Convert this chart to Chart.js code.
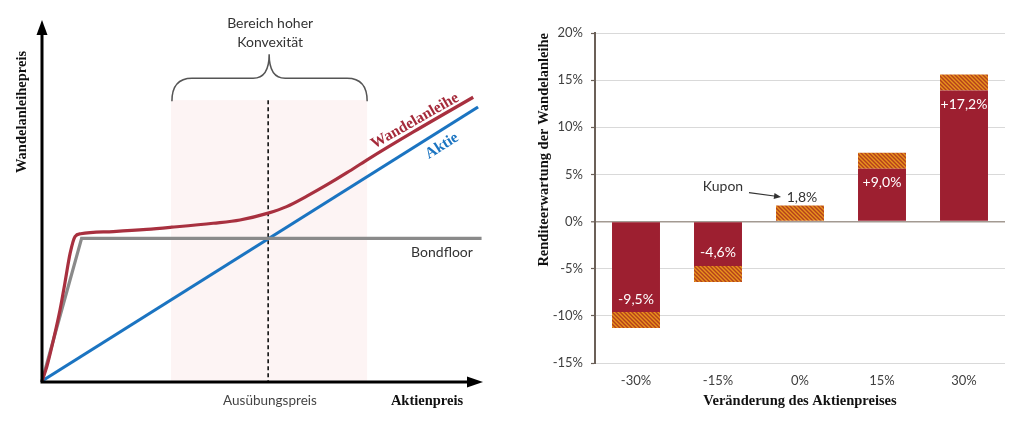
<!DOCTYPE html>
<html><head><meta charset="utf-8">
<script src="https://cdn.jsdelivr.net/npm/chart.js@4.4.1/dist/chart.umd.min.js"></script>
<style>
html,body{margin:0;padding:0;background:#fff;}
#wrap{position:relative;width:1015px;height:424px;overflow:hidden;}
#lbox{position:absolute;left:0;top:0;width:510px;height:424px;}
#rbox{position:absolute;left:510px;top:0;width:505px;height:424px;}
</style></head><body>
<div id="wrap">
<div id="lbox"><canvas id="left" width="510" height="424"></canvas></div>
<div id="rbox"><canvas id="right" width="505" height="424"></canvas></div>
</div>
<script>
// ---------- Left panel data (Stock price vs. convertible price) ----------
const aktieX = [0, 99.1];
const aktieY = [0, 75.9];
const bondX = [0, 9.0, 99.9];
const bondY = [0, 39.5, 39.5];
const wandelX = [0, 1.1, 2.6, 4.1, 5.2, 6.4, 7.5, 8.8, 16.2, 23.8, 29.5, 38.9, 45.0, 51.4, 55.6, 60.2, 64.7, 69.3, 73.8, 84.4, 98];
const wandelY = [0, 4, 11.4, 19.7, 27.1, 35.4, 40, 40.8, 41.4, 42.0, 42.6, 43.7, 44.6, 46.5, 48.3, 51.2, 54.3, 57.7, 61.2, 69.0, 78.6];
const strikeX = 51.4;
const convexRange = [29.3, 73.9];
const convexTop = 77.8;

// ---------- Right panel data ----------
const categories = ['-30%', '-15%', '0%', '15%', '30%'];
const kursValues = [-9.6, -4.7, 0, 5.6, 13.9];
const kuponValues = [-1.7, -1.7, 1.7, 1.7, 1.7];
const barLabels = ['-9,5%', '-4,6%', '1,8%', '+9,0%', '+17,2%'];
const yTicks = [-15, -10, -5, 0, 5, 10, 15, 20];

const toPts = (xs, ys) => xs.map((x, i) => ({x: x, y: ys[i]}));

const SANS = 'Lato, "Open Sans", sans-serif';
const SERIF = '"Liberation Serif", serif';

const leftPlugin = {
  id: 'leftDecor',
  beforeDatasetsDraw(chart) {
    const {ctx, scales: {x, y}} = chart;
    const x1 = x.getPixelForValue(convexRange[0]), x2 = x.getPixelForValue(convexRange[1]);
    const yt = y.getPixelForValue(convexTop), yb = y.getPixelForValue(0);
    ctx.save();
    ctx.fillStyle = '#fdf4f4';
    ctx.fillRect(x1, yt, x2 - x1, yb - yt);
    const sx = x.getPixelForValue(strikeX);
    ctx.strokeStyle = '#111';
    ctx.lineWidth = 1.6;
    ctx.setLineDash([4, 3]);
    ctx.beginPath(); ctx.moveTo(sx, yt); ctx.lineTo(sx, yb); ctx.stroke();
    ctx.restore();
  },
  afterDatasetsDraw(chart) {
    const {ctx, chartArea: a, scales: {x, y}} = chart;
    ctx.save();
    // axes with arrows
    ctx.strokeStyle = '#000'; ctx.fillStyle = '#000'; ctx.lineWidth = 3;
    const ox = a.left, oy = a.bottom + 1;
    ctx.beginPath(); ctx.moveTo(ox, oy); ctx.lineTo(ox, a.top + 14); ctx.stroke();
    ctx.beginPath(); ctx.moveTo(ox, a.top); ctx.lineTo(ox - 5.5, a.top + 15); ctx.lineTo(ox + 5.5, a.top + 15); ctx.closePath(); ctx.fill();
    ctx.beginPath(); ctx.moveTo(ox - 1.5, oy); ctx.lineTo(a.right - 15, oy); ctx.stroke();
    ctx.beginPath(); ctx.moveTo(a.right + 1, oy); ctx.lineTo(a.right - 15, oy - 5.5); ctx.lineTo(a.right - 15, oy + 5.5); ctx.closePath(); ctx.fill();

    // brace
    const x1 = x.getPixelForValue(convexRange[0]) + 1, x2 = x.getPixelForValue(convexRange[1]);
    const yt = y.getPixelForValue(convexTop);
    const sx = x.getPixelForValue(strikeX) + 1;
    const hy = yt - 22, tip = yt - 46;
    ctx.strokeStyle = '#555'; ctx.lineWidth = 1.5;
    ctx.beginPath();
    ctx.moveTo(x1, yt + 1);
    ctx.bezierCurveTo(x1, hy + 8, x1 + 6, hy, x1 + 20, hy);
    ctx.lineTo(sx - 16, hy);
    ctx.bezierCurveTo(sx - 5, hy, sx, hy - 8, sx, tip);
    ctx.bezierCurveTo(sx, hy - 8, sx + 5, hy, sx + 16, hy);
    ctx.lineTo(x2 - 20, hy);
    ctx.bezierCurveTo(x2 - 6, hy, x2, hy + 8, x2, yt + 1);
    ctx.stroke();

    // texts
    ctx.textAlign = 'center'; ctx.textBaseline = 'middle';
    ctx.fillStyle = '#333';
    ctx.font = '14px ' + SANS;
    ctx.fillText('Bereich hoher', sx + 1, 23);
    ctx.fillText('Konvexität', sx + 1, 42);
    ctx.fillText('Bondfloor', 442, 252);
    ctx.fillStyle = '#444';
    ctx.font = '13.5px ' + SANS;
    ctx.fillText('Ausübungspreis', 270, 401);
    ctx.fillStyle = '#111';
    ctx.font = 'bold 14.5px ' + SERIF;
    ctx.fillText('Aktienpreis', 427, 401);
    ctx.save(); ctx.translate(22, 112); ctx.rotate(-Math.PI / 2);
    ctx.fillText('Wandelanleihepreis', 0, 0); ctx.restore();

    ctx.font = 'bold 15.5px ' + SERIF;
    ctx.fillStyle = '#a52a3a';
    ctx.save(); ctx.translate(415, 121); ctx.rotate(-29.5 * Math.PI / 180);
    ctx.fillText('Wandelanleihe', 0, 0); ctx.restore();
    ctx.fillStyle = '#1b74c1';
    ctx.save(); ctx.translate(442, 146); ctx.rotate(-32 * Math.PI / 180);
    ctx.fillText('Aktie', 0, 0); ctx.restore();
    ctx.restore();
  }
};

function makeHatch(ctx) {
  const c = document.createElement('canvas');
  c.width = 4; c.height = 4;
  const g = c.getContext('2d');
  g.fillStyle = '#b4401d'; g.fillRect(0, 0, 4, 4);
  g.strokeStyle = '#e8931c'; g.lineWidth = 1.4;
  g.beginPath();
  g.moveTo(-1, -1); g.lineTo(5, 5);
  g.moveTo(-1, 3); g.lineTo(1, 5);
  g.moveTo(3, -1); g.lineTo(5, 1);
  g.stroke();
  return ctx.createPattern(c, 'repeat');
}

const rightPlugin = {
  id: 'barLabels',
  afterDatasetsDraw(chart) {
    const {ctx} = chart;
    const m0 = chart.getDatasetMeta(0), m1 = chart.getDatasetMeta(1);
    ctx.save();
    ctx.textAlign = 'center'; ctx.textBaseline = 'middle';
    ctx.font = '14px ' + SANS;
    categories.forEach((c, i) => {
      const v = kursValues[i];
      if (v === 0) {
        const b = m1.data[i];
        ctx.fillStyle = '#333';
        ctx.fillText(barLabels[i], b.x + 2, b.y - 8);
        // Kupon annotation
        ctx.fillText('Kupon', b.x - 77, b.y - 19);
        ctx.strokeStyle = '#333'; ctx.lineWidth = 1.2;
        const ax1 = b.x - 51, ay1 = b.y - 13, ax2 = b.x - 19, ay2 = b.y - 8.5;
        ctx.beginPath(); ctx.moveTo(ax1, ay1); ctx.lineTo(ax2 - 5, ay2 - 0.8); ctx.stroke();
        const ang = Math.atan2(ay2 - ay1, ax2 - ax1);
        ctx.beginPath();
        ctx.moveTo(ax2, ay2);
        ctx.lineTo(ax2 - 7 * Math.cos(ang) + 3 * Math.sin(ang), ay2 - 7 * Math.sin(ang) - 3 * Math.cos(ang));
        ctx.lineTo(ax2 - 7 * Math.cos(ang) - 3 * Math.sin(ang), ay2 - 7 * Math.sin(ang) + 3 * Math.cos(ang));
        ctx.closePath(); ctx.fillStyle = '#333'; ctx.fill();
      } else {
        const b = m0.data[i];
        ctx.fillStyle = '#fff';
        ctx.fillText(barLabels[i], b.x, v < 0 ? b.y - 13 : b.y + 14);
      }
    });
    ctx.restore();
  }
};

function build() {
  new Chart(document.getElementById('left'), {
    type: 'line',
    data: {
      datasets: [
        {label: 'Wandelanleihe', data: toPts(wandelX, wandelY), borderColor: '#a8303f', borderWidth: 3.2, pointRadius: 0, cubicInterpolationMode: 'monotone', clip: 8},
        {label: 'Bondfloor', data: toPts(bondX, bondY), borderColor: '#8a8a8a', borderWidth: 3.2, pointRadius: 0, tension: 0, clip: 8},
        {label: 'Aktie', data: toPts(aktieX, aktieY), borderColor: '#1b74c1', borderWidth: 3.2, pointRadius: 0, tension: 0, clip: 8}
      ]
    },
    options: {
      responsive: false, animation: false, devicePixelRatio: 1,
      layout: {padding: {left: 42, right: 28, top: 20, bottom: 43}},
      plugins: {legend: {display: false}, tooltip: {enabled: false}},
      scales: {
        x: {type: 'linear', min: 0, max: 100, display: false},
        y: {type: 'linear', min: 0, max: 100, display: false}
      }
    },
    plugins: [leftPlugin]
  });

  const rctx = document.getElementById('right').getContext('2d');
  const hatch = makeHatch(rctx);
  new Chart(rctx, {
    type: 'bar',
    data: {
      labels: categories,
      datasets: [
        {label: 'Kursveränderung', data: kursValues, backgroundColor: '#9d1f30', borderWidth: 0, barPercentage: 0.585, categoryPercentage: 1},
        {label: 'Kupon', data: kuponValues, backgroundColor: hatch, borderWidth: 0, barPercentage: 0.585, categoryPercentage: 1}
      ]
    },
    options: {
      responsive: false, animation: false, devicePixelRatio: 1,
      layout: {padding: {left: 0, right: 10, top: 33, bottom: 0}},
      plugins: {legend: {display: false}, tooltip: {enabled: false}},
      scales: {
        x: {
          stacked: true,
          grid: {display: false, drawTicks: false},
          border: {display: false},
          ticks: {font: {family: SANS, size: 13}, color: '#404040', padding: 10},
          title: {display: true, text: 'Veränderung des Aktienpreises', font: {family: SERIF, size: 14.5, weight: 'bold'}, color: '#111', padding: {top: 0, bottom: 14}},
          afterFit: s => { s.height = 61; }
        },
        y: {
          stacked: true, min: -15, max: 20,
          afterBuildTicks: s => { s.ticks = yTicks.map(v => ({value: v})); },
          ticks: {callback: v => v + '%', font: {family: SANS, size: 13}, color: '#404040', padding: 8},
          grid: {
            color: c => (c.tick && c.tick.value === 0) ? '#a39a92' : '#d9d9d9',
            lineWidth: c => (c.tick && c.tick.value === 0) ? 1.6 : 1,
            tickColor: '#6b6058', tickLength: 4, tickWidth: 1.2
          },
          border: {color: '#6b6058', width: 2},
          title: {display: true, text: 'Renditeerwartung der Wandelanleihe', align: 'end', font: {family: SERIF, size: 14.5, weight: 'bold'}, color: '#111', padding: {top: 26, bottom: 0}},
          afterFit: s => { s.width = 85; }
        }
      }
    },
    plugins: [rightPlugin]
  });
}
if (document.fonts && document.fonts.ready) { document.fonts.ready.then(build); } else { build(); }
</script>
</body></html>
